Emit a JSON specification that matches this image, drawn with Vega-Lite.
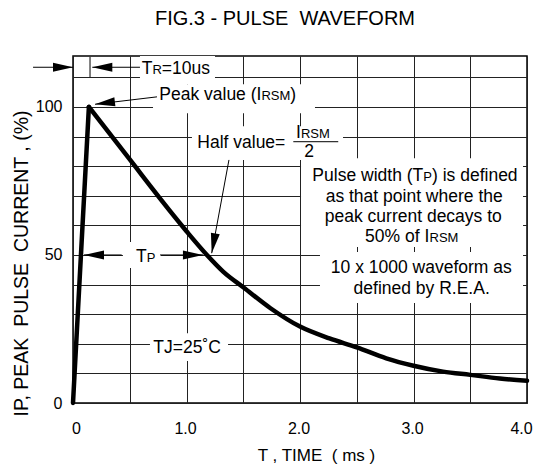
{
  "$schema": "https://vega.github.io/schema/vega-lite/v6.json",
  "width": 454,
  "height": 347,
  "autosize": "none",
  "padding": {"left": 73, "top": 56, "right": 6, "bottom": 62},
  "background": "white",
  "config": {
    "font": "Liberation Sans",
    "view": {"stroke": "#000", "strokeWidth": 1.5},
    "axis": {"domain": false, "ticks": false, "tickSize": 0, "grid": true, "gridColor": "#222", "gridWidth": 1, "gridOpacity": 1,
      "labelFont": "Liberation Sans", "labelFontSize": 16, "labelColor": "#000", "titleFont": "Liberation Sans", "titleColor": "#000", "titleFontWeight": "normal", "labelOverlap": false, "labelFlush": false}
  },
  "title": {"text": "FIG.3 - PULSE \u00a0WAVEFORM", "font": "Liberation Sans", "fontSize": 20, "fontWeight": "normal", "color": "#000", "anchor": "middle", "frame": "group", "dx": -15, "baseline": "alphabetic", "offset": 11},
  "datasets": {
    "curve": [
      {"part": "rise", "x": 0, "y": 0}, {"part": "rise", "x": 0.14, "y": 100},
      {"part": "decay", "x": 0.14, "y": 100}, {"part": "decay", "x": 0.56, "y": 79.3}, {"part": "decay", "x": 0.68, "y": 73.3},
      {"part": "decay", "x": 1.0, "y": 58}, {"part": "decay", "x": 1.18, "y": 50}, {"part": "decay", "x": 1.325, "y": 44.3},
      {"part": "decay", "x": 1.5, "y": 39.1}, {"part": "decay", "x": 1.74, "y": 32.0}, {"part": "decay", "x": 2.0, "y": 25.8},
      {"part": "decay", "x": 2.26, "y": 21.8}, {"part": "decay", "x": 2.5, "y": 18.8}, {"part": "decay", "x": 2.76, "y": 15.1},
      {"part": "decay", "x": 3.0, "y": 12.6}, {"part": "decay", "x": 3.26, "y": 10.6}, {"part": "decay", "x": 3.5, "y": 9.5},
      {"part": "decay", "x": 3.76, "y": 8.3}, {"part": "decay", "x": 4.0, "y": 7.5}
    ],
    "boxes": [
      {"x": 0.59, "x2": 1.251, "y": 107.7, "y2": 117.2},
      {"x": 0.705, "x2": 2.132, "y": 97.9, "y2": 107.7},
      {"x": 1.048, "x2": 2.379, "y": 82.1, "y2": 93.5},
      {"x": 2.009, "x2": 3.965, "y": 52.7, "y2": 82.7},
      {"x": 2.176, "x2": 3.965, "y": 33.8, "y2": 51.0},
      {"x": 0.44, "x2": 0.775, "y": 45.6, "y2": 54.4},
      {"x": 0.678, "x2": 1.366, "y": 14.2, "y2": 23.6}
    ],
    "rules": [
      {"x": -0.352, "y": 113.4, "x2": 0, "y2": 113.4},
      {"x": 0.15, "y": 116.9, "x2": 0.15, "y2": 110.1},
      {"x": 0.17, "y": 113.4, "x2": 0.59, "y2": 113.4},
      {"x": 0.74, "y": 103.4, "x2": 0.194, "y2": 100.9},
      {"x": 1.374, "y": 82.1, "x2": 1.222, "y2": 50.6},
      {"x": 0.097, "y": 50, "x2": 0.429, "y2": 50},
      {"x": 0.767, "y": 50, "x2": 1.145, "y2": 50},
      {"x": 1.941, "y": 88.25, "x2": 2.337, "y2": 88.25}
    ],
    "heads": [
      {"x": 0, "y": 113.4, "angle": 0},
      {"x": 0.17, "y": 113.4, "angle": 180},
      {"x": 0.194, "y": 100.9, "angle": 173},
      {"x": 1.222, "y": 50.6, "angle": 100.5},
      {"x": 0.097, "y": 50, "angle": 180},
      {"x": 1.145, "y": 50, "angle": 0}
    ],
    "textLeft": [
      {"x": 0.605, "y": 111.1, "label": "T"},
      {"x": 0.782, "y": 111.1, "label": "=10us"},
      {"x": 0.76, "y": 102.2, "label": "Peak value (I"},
      {"x": 1.915, "y": 102.2, "label": ")"},
      {"x": 1.095, "y": 86.2, "label": "Half value="},
      {"x": 1.965, "y": 89.4, "label": "I"},
      {"x": 2.109, "y": 75.1, "label": "Pulse width (T"},
      {"x": 3.163, "y": 75.1, "label": ") is defined"},
      {"x": 2.573, "y": 54.5, "label": "50% of I"},
      {"x": 0.555, "y": 47.7, "label": "T"},
      {"x": 0.7075, "y": 17.0, "label": "TJ=25˚C"}
    ],
    "textSmall": [
      {"x": 0.700, "y": 111.1, "label": "R"},
      {"x": 1.660, "y": 102.2, "label": "RSM"},
      {"x": 2.008, "y": 89.4, "label": "RSM"},
      {"x": 3.086, "y": 75.1, "label": "P"},
      {"x": 3.141, "y": 54.5, "label": "RSM"},
      {"x": 0.650, "y": 47.7, "label": "P"}
    ],
    "textCenter": [
      {"x": 2.081, "y": 83.0, "label": "2"},
      {"x": 3.006, "y": 68.0, "label": "as that point where the"},
      {"x": 2.998, "y": 61.2, "label": "peak current decays to"},
      {"x": 3.069, "y": 43.8, "label": "10 x 1000 waveform as"},
      {"x": 3.072, "y": 36.8, "label": "defined by R.E.A."}
    ]
  },
  "encoding": {
    "x": {"field": "x", "type": "quantitative",
      "scale": {"domain": [0, 4], "nice": false, "zero": false},
      "axis": {"values": [0, 0.5, 1, 1.5, 2, 2.5, 3, 3.5, 4],
        "labelExpr": "datum.value == 0 ? '0' : (datum.value % 1 == 0 ? format(datum.value, '.1f') : '')",
        "labelOffset": {"condition": [{"test": "datum.value == 4", "value": -6}, {"test": "datum.value == 0", "value": 3}], "value": -1.5},
        "labelPadding": 17, "title": "T , TIME \u00a0( ms )", "titleFontSize": 17,
        "titleX": 243, "titleY": 57, "titleBaseline": "alphabetic", "titleAnchor": null}},
    "y": {"field": "y", "type": "quantitative",
      "scale": {"domain": [0, 117.2], "nice": false, "zero": false},
      "axis": {"values": [0, 10, 20, 30, 40, 50, 60, 70, 80, 90, 100, 110],
        "labelExpr": "datum.value % 50 == 0 ? datum.value + '' : ''",
        "labelPadding": 11, "title": "IP, PEAK \u00a0PULSE \u00a0CURRENT , (%)", "titleFontSize": 19.5,
        "titleX": -46, "titleY": 207, "titleAngle": 270, "titleAlign": "center", "titleBaseline": "alphabetic"}}
  },
  "layer": [
    {"data": {"name": "boxes"}, "mark": {"type": "rect", "fill": "white", "strokeWidth": 0},
      "encoding": {"x2": {"field": "x2"}, "y2": {"field": "y2"}}},
    {"data": {"name": "rules"}, "mark": {"type": "rule", "color": "#000", "strokeWidth": 1},
      "encoding": {"x2": {"field": "x2"}, "y2": {"field": "y2"}}},
    {"data": {"name": "heads"}, "mark": {"type": "point", "shape": "M0,0L-4,-0.9L-4,0.9Z", "filled": true, "size": 100, "color": "#000", "opacity": 1, "strokeWidth": 0},
      "encoding": {"angle": {"field": "angle", "type": "quantitative", "scale": null}}},
    {"data": {"name": "curve"}, "mark": {"type": "line", "color": "#000", "strokeWidth": 4.5, "interpolate": "monotone", "strokeCap": "round"},
      "encoding": {"detail": {"field": "part", "type": "nominal"}}},
    {"data": {"name": "textLeft"}, "mark": {"type": "text", "align": "left", "baseline": "alphabetic", "fontSize": 17.5, "color": "#000"},
      "encoding": {"text": {"field": "label"}}},
    {"data": {"name": "textSmall"}, "mark": {"type": "text", "align": "left", "baseline": "alphabetic", "fontSize": 13, "color": "#000"},
      "encoding": {"text": {"field": "label"}}},
    {"data": {"name": "textCenter"}, "mark": {"type": "text", "align": "center", "baseline": "alphabetic", "fontSize": 17.5, "color": "#000"},
      "encoding": {"text": {"field": "label"}}}
  ]
}
